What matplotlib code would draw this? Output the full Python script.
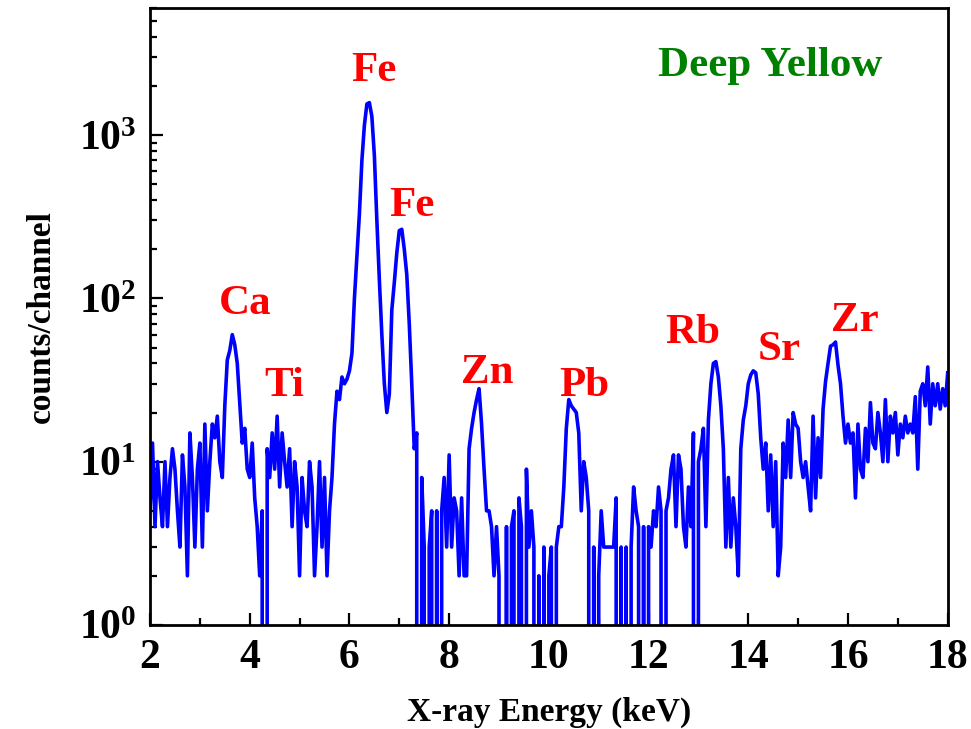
import numpy as np
import matplotlib
matplotlib.use('Agg')
import matplotlib.pyplot as plt
from matplotlib.ticker import FixedLocator, FuncFormatter, LogLocator, NullFormatter

plt.rcParams['font.family'] = 'Liberation Serif'
plt.rcParams['font.weight'] = 'bold'
plt.rcParams['mathtext.fontset'] = 'custom'
plt.rcParams['mathtext.rm'] = 'Liberation Serif:bold'
plt.rcParams['mathtext.bf'] = 'Liberation Serif:bold'

# spectrum, counts per channel, channels every 0.05 keV from 2.00 keV
e_start = 2.0
e_step = 0.05
counts = [
    # 2.00 - 2.95
    5, 13, 4, 10, 6, 4, 10, 4, 8, 12, 9, 5, 3, 11, 7, 2, 15, 8, 3, 9,
    # 3.00 - 3.95
    13, 3, 17, 5, 10, 17, 14, 19, 10, 8, 22, 42, 48, 60, 52, 40, 23, 13, 16, 9,
    # 4.00 - 4.95
    8, 13, 6, 4, 2, 5, 0, 12, 8, 15, 9, 19, 7, 15, 10, 7, 12, 4, 10, 7,
    # 5.00 - 5.95
    2, 8, 5, 4, 10, 7, 2, 4, 10, 3, 8, 2, 5, 8, 17, 27, 24, 33, 30, 32,
    # 6.00 - 6.95
    36, 46, 100, 180, 330, 700, 1150, 1550, 1580, 1300, 750, 300, 130, 60, 30, 20, 26, 85, 125, 190,
    # 7.00 - 7.95
    260, 265, 200, 140, 70, 30, 12, 15, 0, 8, 3, 0, 3, 5, 0, 5, 0, 5, 8, 3,
    # 8.00 - 8.95
    11, 3, 6, 5, 2, 6, 2, 2, 12, 16, 20, 24, 28, 17, 9, 5, 5, 4, 2, 4,
    # 9.00 - 9.95
    2, 0, 0, 4, 0, 4, 5, 0, 6, 4, 0, 9, 3, 5, 3, 0, 2, 0, 3, 0,
    # 10.00 - 10.95
    2, 3, 0, 3, 4, 4, 7, 16, 24, 22, 21, 20, 15, 5, 10, 8, 5, 0, 3, 0,
    # 11.00 - 11.95
    2, 5, 3, 3, 3, 3, 3, 6, 0, 3, 0, 3, 0, 3, 7, 5, 4, 0, 4, 0,
    # 12.00 - 12.95
    4, 3, 5, 4, 7, 5, 0, 5, 6, 9, 11, 4, 11, 9, 4, 3, 7, 4, 15, 0,
    # 13.00 - 13.95
    10, 12, 16, 4, 18, 30, 40, 41, 33, 22, 12, 3, 8, 3, 6, 4, 2, 12, 18, 22,
    # 14.00 - 14.95
    30, 34, 36, 35, 26, 14, 9, 13, 5, 11, 4, 10, 2, 3, 13, 8, 18, 8, 20, 17,
    # 15.00 - 15.95
    16, 10, 8, 10, 7, 5, 19, 6, 14, 8, 21, 31, 40, 51, 52, 54, 39, 30, 19, 13,
    # 16.00 - 16.95
    17, 13, 15, 6, 17, 9, 8, 16, 10, 23, 13, 12, 20, 15, 10, 24, 10, 19, 15, 20,
    # 17.00 - 17.95
    11, 17, 14, 19, 15, 17, 15, 25, 9, 27, 30, 22, 38, 17, 30, 22, 30, 21, 28, 22,
    # 18.00
    35,
]

# peak labels
peak_names = ['Ca', 'Ti', 'Fe', 'Fe', 'Zn', 'Pb', 'Rb', 'Sr', 'Zr']
peak_x = [3.9, 4.7, 6.5, 7.25, 8.77, 10.72, 12.88, 14.62, 16.13]
peak_y = [93, 29, 2480, 370, 35, 29, 61, 48, 73]

sample_name = 'Deep Yellow'

energy = e_start + e_step * np.arange(len(counts))

fig = plt.figure(figsize=(9.71, 7.29), dpi=100)
fig.subplots_adjust(left=0.1545, right=0.976, bottom=0.1427, top=0.989)
ax = fig.gca()

ax.plot(energy, counts, color='#0000ff', lw=2.6)
ax.set_yscale('log', nonpositive='clip')
ax.set_xlim(2, 18)
ax.set_ylim(1, 6000)

for name, x, y in zip(peak_names, peak_x, peak_y):
    ax.text(x, y, name, color='red', fontsize=31, fontweight='bold',
            ha='center', va='center')
ax.text(14.43, 2660, sample_name, color='#008000', fontsize=31,
        fontweight='bold', ha='center', va='center')

# axes, ticks
for s in ax.spines.values():
    s.set_linewidth(2.0)
ax.xaxis.set_major_locator(FixedLocator([2, 4, 6, 8, 10, 12, 14, 16, 18]))
ax.xaxis.set_minor_locator(FixedLocator([3, 5, 7, 9, 11, 13, 15, 17]))
ax.yaxis.set_major_locator(LogLocator(base=10, numticks=10))
ax.yaxis.set_minor_locator(LogLocator(base=10, subs=np.arange(2, 10), numticks=10))
ax.yaxis.set_minor_formatter(NullFormatter())
ax.yaxis.set_major_formatter(FuncFormatter(
    lambda v, p: r'$\mathbf{10^{%d}}$' % round(np.log10(v))))
ax.tick_params(which='both', direction='in', top=False, right=False, width=1.6)
ax.tick_params(which='major', length=9, labelsize=30, pad=10)
ax.tick_params(which='minor', length=5)

ax.set_xlabel('X-ray Energy (keV)', fontsize=24, fontweight='bold', labelpad=14)
ax.set_ylabel('counts/channel', fontsize=24, fontweight='bold', labelpad=16)

fig.savefig('out.png', dpi=100)
